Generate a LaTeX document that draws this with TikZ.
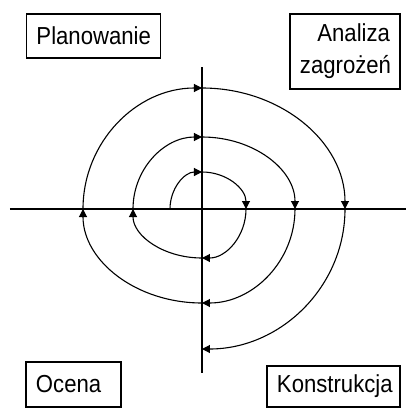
\documentclass[tikz,border=0pt]{standalone}
\usepackage{fontspec}
\setmainfont{Liberation Sans}[FakeStretch=0.9]
\usetikzlibrary{arrows.meta}
\tikzset{
  fazabox/.style={
    rectangle, draw=black, line width=0.75pt, fill=white,
    inner xsep=5pt, inner ysep=3pt, text width=#1,
    font=\fontsize{12.3}{16}\selectfont
  },
  fazabox/.default=50pt,
  spiral/.style={
    -{Triangle[length=4pt,width=4pt]}, line width=0.55pt
  },
  osline/.style={line width=#1},
  osline/.default=0.65pt,
}

\begin{document}
\begin{tikzpicture}[x=0.5pt, y=0.5pt]
\useasboundingbox (-202,-199) rectangle (204,209);
% axes
\coordinate (west) at (-192,0);
\coordinate (east) at (204,0);
\coordinate (north) at (0,142);
\coordinate (south) at (0,-164);
\draw[osline=1pt] (west) -- (east);
\draw[osline] (north) -- (south);
% crossing points of the spiral
\coordinate (c0) at (-32,0);
\coordinate (t1) at (0,37);
\coordinate (r1) at (44,0);
\coordinate (b1) at (0,-49);
\coordinate (l1) at (-69,0);
\coordinate (t2) at (0,72);
\coordinate (r2) at (93,0);
\coordinate (b2) at (0,-94);
\coordinate (l2) at (-119,0);
\coordinate (t3) at (0,121);
\coordinate (r3) at (143,0);
% spiral
\draw[spiral] (c0) arc[start angle=180, end angle=90, x radius=32, y radius=37];
\draw[spiral] (t1) arc[start angle=90, end angle=0, x radius=44, y radius=37];
\draw[spiral] (r1) arc[start angle=0, end angle=-90, x radius=44, y radius=49];
\draw[spiral] (b1) arc[start angle=270, end angle=180, x radius=69, y radius=49];
\draw[spiral] (l1) arc[start angle=180, end angle=90, x radius=69, y radius=72];
\draw[spiral] (t2) arc[start angle=90, end angle=0, x radius=93, y radius=72];
\draw[spiral] (r2) arc[start angle=0, end angle=-90, x radius=93, y radius=94];
\draw[spiral] (b2) arc[start angle=270, end angle=180, x radius=119, y radius=94];
\draw[spiral] (l2) arc[start angle=180, end angle=90, x radius=119, y radius=121];
\draw[spiral] (t3) arc[start angle=90, end angle=0, x radius=143, y radius=121];
\draw[spiral] (r3) arc[start angle=0, end angle=-90, x radius=143, y radius=140];
% phases
\node[fazabox=57pt, align=center, minimum height=22pt] (plan) at (-108.5,173) {Planowanie};
\node[fazabox=45pt, align=right, minimum height=37.5pt] (analiza) at (143,157.5) {Analiza\\zagrożeń};
\node[fazabox=37.5pt, align=left, minimum height=22.5pt] (ocena) at (-128.5,-175.5) {Ocena};
\node[fazabox=56.5pt, align=center, minimum height=20.5pt] (konstr) at (131.5,-177.5) {Konstrukcja};
\end{tikzpicture}
\end{document}
